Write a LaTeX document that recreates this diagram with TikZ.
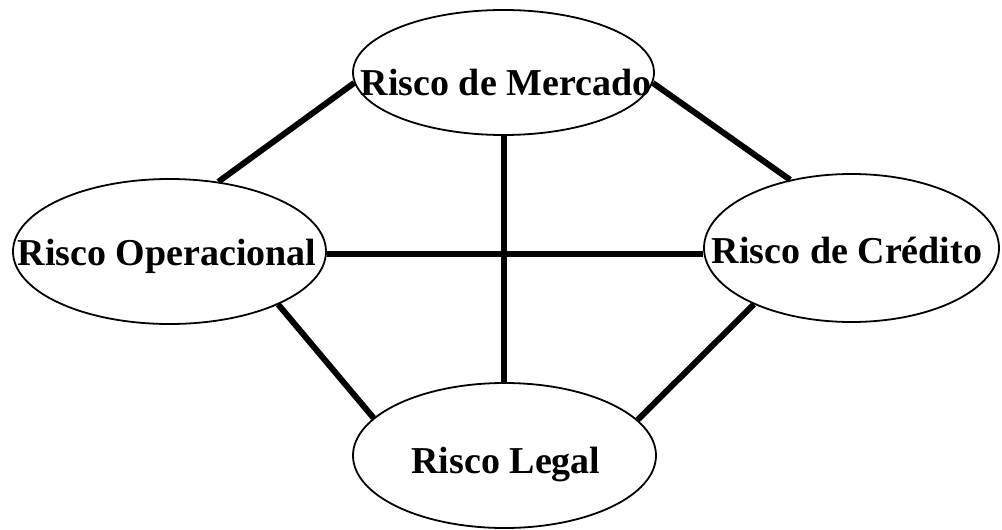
\documentclass[tikz,border=0pt]{standalone}
\usepackage{fontspec}
\setmainfont{Liberation Serif}
\usetikzlibrary{shapes.geometric}
\tikzset{
  riskbox/.style={draw=black, line width=1.8pt, ellipse, inner sep=0pt, fill=none},
  risklabel/.style={anchor=base, inner sep=0pt, font=\fontsize{38}{40}\selectfont\bfseries},
  link/.style={draw=black, line width=6pt}
}
\begin{document}
\begin{tikzpicture}[x=1pt,y=-1pt]
\useasboundingbox[fill=white] (0,0) rectangle (1002,530);
% ellipses
\node[riskbox, minimum width=301pt, minimum height=125pt] (merc) at (503.5,72.5) {};
\node[riskbox, minimum width=313pt, minimum height=145pt] (oper) at (169.5,251.5) {};
\node[riskbox, minimum width=295pt, minimum height=148pt] (cred) at (851.5,248) {};
\node[riskbox, minimum width=303pt, minimum height=145pt] (legal) at (504.5,455.5) {};
% labels
\node[risklabel] (mercT) at (506,95) {Risco de Mercado};
\node[risklabel] (operT) at (167,265) {Risco Operacional};
\node[risklabel] (credT) at (847,263) {Risco de Crédito};
\node[risklabel] (legalT) at (506,473) {Risco Legal};
% connectors
\draw[link] (merc.184) -- (oper.55.7);
\draw[link] (merc.-4) -- (cred.132.3);
\draw[link] (oper.-26.5) -- (legal.164);
\draw[link] (cred.210.1) -- (legal.15.8);
\draw[link] (oper.-1.3) -- (oper.-1.3 -| cred.west);
\draw[link] (merc.south) -- (merc.south |- legal.north);
\end{tikzpicture}
\end{document}
